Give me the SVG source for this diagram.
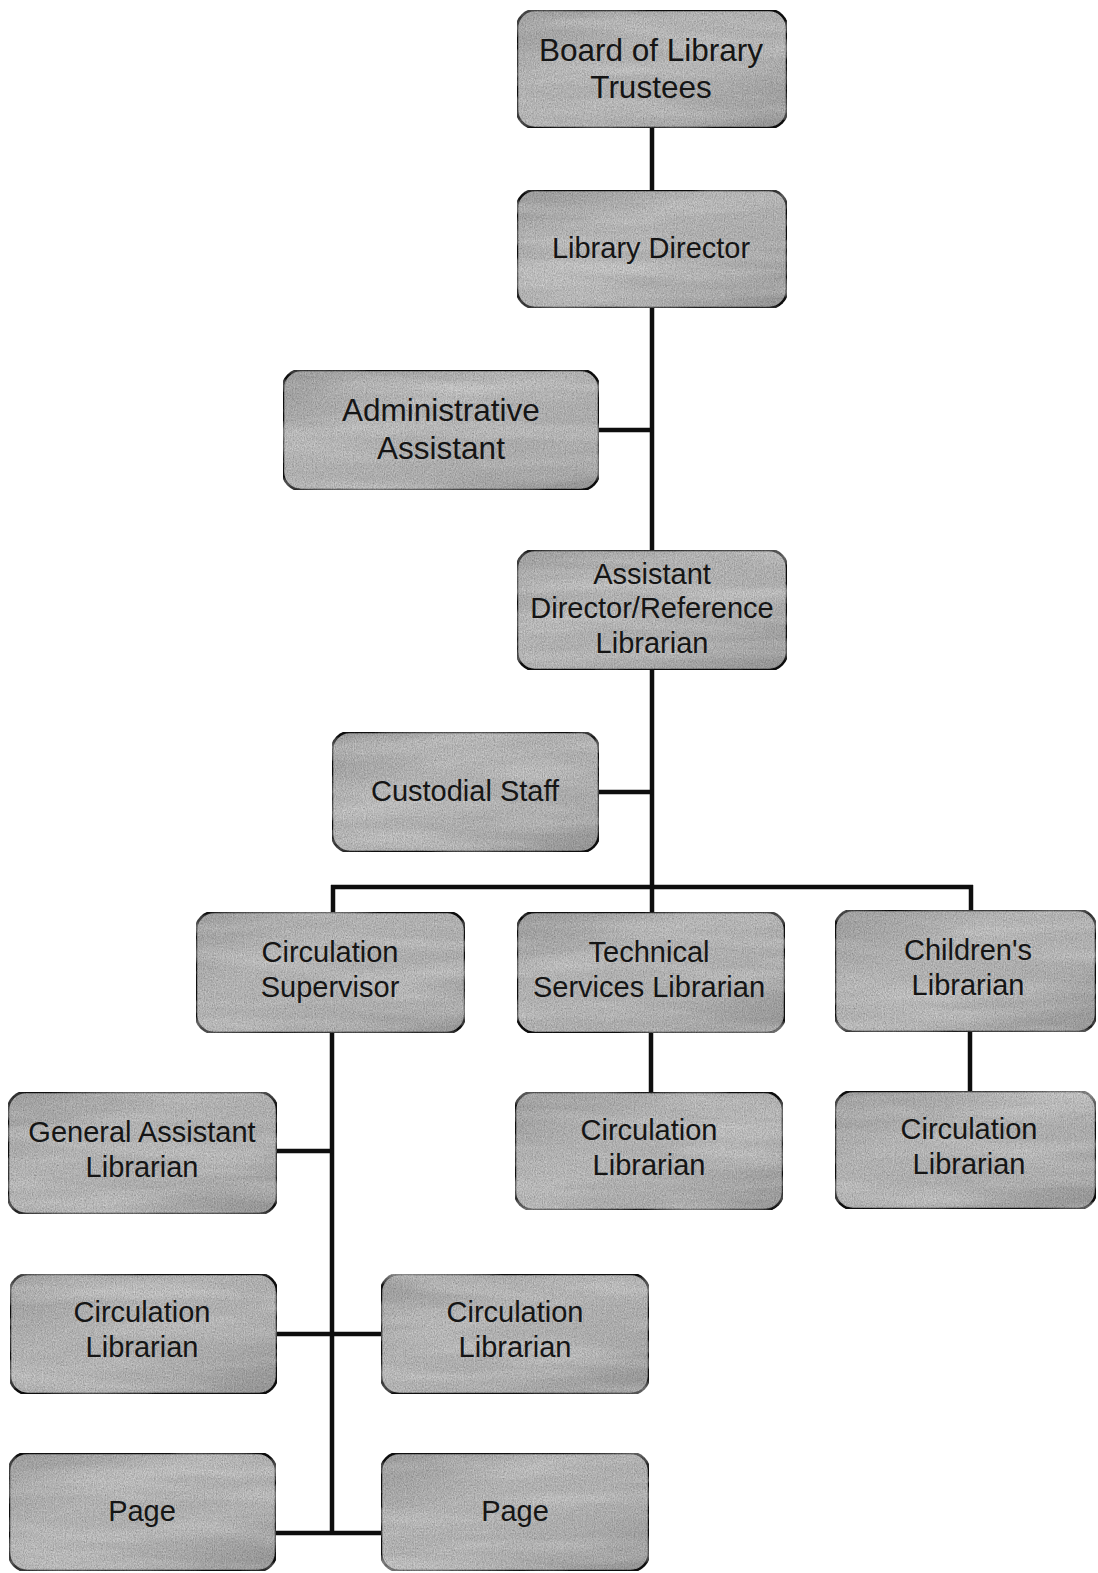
<svg xmlns="http://www.w3.org/2000/svg" width="1098" height="1573" viewBox="0 0 1098 1573">
  <defs>
    <linearGradient id="boxFill" x1="0" y1="0" x2="1" y2="1">
      <stop offset="0" stop-color="#acacac"/>
      <stop offset="0.35" stop-color="#c6c6c6"/>
      <stop offset="0.7" stop-color="#bfbfbf"/>
      <stop offset="1" stop-color="#a4a4a4"/>
    </linearGradient>
    <filter id="grain" x="0" y="0" width="100%" height="100%">
      <feTurbulence type="fractalNoise" baseFrequency="0.9 0.6" numOctaves="2" seed="3" result="fine"/>
      <feTurbulence type="fractalNoise" baseFrequency="0.006 0.05" numOctaves="3" seed="7" result="streak"/>
      <feColorMatrix in="fine" type="matrix" values="0 0 0 0 0  0 0 0 0 0  0 0 0 0 0  0.4 0.4 0.4 0 -0.38" result="fineA"/>
      <feColorMatrix in="streak" type="matrix" values="0 0 0 0 1  0 0 0 0 1  0 0 0 0 1  0.6 0 0 0 -0.25" result="streakA"/>
      <feComposite in="fineA" in2="SourceGraphic" operator="in" result="fineIn"/>
      <feComposite in="streakA" in2="SourceGraphic" operator="in" result="streakIn"/>
      <feMerge>
        <feMergeNode in="SourceGraphic"/>
        <feMergeNode in="streakIn"/>
        <feMergeNode in="fineIn"/>
      </feMerge>
    </filter>
  </defs>
  <style>
    .box { fill: url(#boxFill); stroke: #161616; stroke-width: 2.5; filter: url(#grain); }
    .lbl { font-family: "Liberation Sans", Arial, sans-serif; font-size: 29px; fill: #151515; text-anchor: middle; }
    .big { font-size: 31.5px; }
    .conn { stroke: #0e0e0e; stroke-width: 4.5; fill: none; stroke-linecap: butt; }
  </style>
  <rect width="1098" height="1573" fill="#ffffff"/>

  <g id="connectors">
    <line class="conn" x1="652" y1="128" x2="652" y2="190"/>
    <line class="conn" x1="652" y1="308" x2="652" y2="550"/>
    <line class="conn" x1="599" y1="430" x2="654" y2="430"/>
    <line class="conn" x1="652" y1="670" x2="652" y2="889"/>
    <line class="conn" x1="599" y1="792" x2="654" y2="792"/>
    <line class="conn" x1="331" y1="887" x2="973" y2="887"/>
    <line class="conn" x1="333" y1="885" x2="333" y2="912"/>
    <line class="conn" x1="652" y1="887" x2="652" y2="912"/>
    <line class="conn" x1="971" y1="885" x2="971" y2="910"/>
    <line class="conn" x1="651" y1="1033" x2="651" y2="1092"/>
    <line class="conn" x1="970" y1="1032" x2="970" y2="1091"/>
    <line class="conn" x1="332" y1="1033" x2="332" y2="1535"/>
    <line class="conn" x1="277" y1="1151" x2="334" y2="1151"/>
    <line class="conn" x1="277" y1="1334" x2="381" y2="1334"/>
    <line class="conn" x1="276" y1="1533" x2="381" y2="1533"/>
  </g>

  <g id="board">
    <rect class="box" x="517" y="10" width="270" height="118" rx="18"/>
    <text class="lbl big" x="651" y="61">Board of Library</text>
    <text class="lbl big" x="651" y="98">Trustees</text>
  </g>
  <g id="director">
    <rect class="box" x="517" y="190" width="270" height="118" rx="18"/>
    <text class="lbl" x="651" y="258">Library Director</text>
  </g>
  <g id="admin-assistant">
    <rect class="box" x="283" y="370" width="316" height="120" rx="18"/>
    <text class="lbl big" x="441" y="421">Administrative</text>
    <text class="lbl big" x="441" y="459">Assistant</text>
  </g>
  <g id="assistant-director">
    <rect class="box" x="517" y="550" width="270" height="120" rx="18"/>
    <text class="lbl" x="652" y="584">Assistant</text>
    <text class="lbl" x="652" y="618">Director/Reference</text>
    <text class="lbl" x="652" y="653">Librarian</text>
  </g>
  <g id="custodial">
    <rect class="box" x="332" y="732" width="267" height="120" rx="18"/>
    <text class="lbl" x="465" y="801">Custodial Staff</text>
  </g>
  <g id="circulation-supervisor">
    <rect class="box" x="196" y="912" width="269" height="121" rx="18"/>
    <text class="lbl" x="330" y="962">Circulation</text>
    <text class="lbl" x="330" y="997">Supervisor</text>
  </g>
  <g id="technical-services">
    <rect class="box" x="517" y="912" width="268" height="121" rx="18"/>
    <text class="lbl" x="649" y="962">Technical</text>
    <text class="lbl" x="649" y="997">Services Librarian</text>
  </g>
  <g id="childrens-librarian">
    <rect class="box" x="835" y="910" width="261" height="122" rx="18"/>
    <text class="lbl" x="968" y="960">Children's</text>
    <text class="lbl" x="968" y="995">Librarian</text>
  </g>
  <g id="tech-circulation-librarian">
    <rect class="box" x="515" y="1092" width="268" height="118" rx="18"/>
    <text class="lbl" x="649" y="1140">Circulation</text>
    <text class="lbl" x="649" y="1175">Librarian</text>
  </g>
  <g id="children-circulation-librarian">
    <rect class="box" x="835" y="1091" width="261" height="118" rx="18"/>
    <text class="lbl" x="969" y="1139">Circulation</text>
    <text class="lbl" x="969" y="1174">Librarian</text>
  </g>
  <g id="general-assistant">
    <rect class="box" x="8" y="1092" width="269" height="122" rx="18"/>
    <text class="lbl" x="142" y="1142">General Assistant</text>
    <text class="lbl" x="142" y="1177">Librarian</text>
  </g>
  <g id="circulation-librarian-left">
    <rect class="box" x="10" y="1274" width="267" height="120" rx="18"/>
    <text class="lbl" x="142" y="1322">Circulation</text>
    <text class="lbl" x="142" y="1357">Librarian</text>
  </g>
  <g id="circulation-librarian-right">
    <rect class="box" x="381" y="1274" width="268" height="120" rx="18"/>
    <text class="lbl" x="515" y="1322">Circulation</text>
    <text class="lbl" x="515" y="1357">Librarian</text>
  </g>
  <g id="page-left">
    <rect class="box" x="9" y="1453" width="267" height="118" rx="18"/>
    <text class="lbl" x="142" y="1521">Page</text>
  </g>
  <g id="page-right">
    <rect class="box" x="381" y="1453" width="268" height="118" rx="18"/>
    <text class="lbl" x="515" y="1521">Page</text>
  </g>
</svg>
